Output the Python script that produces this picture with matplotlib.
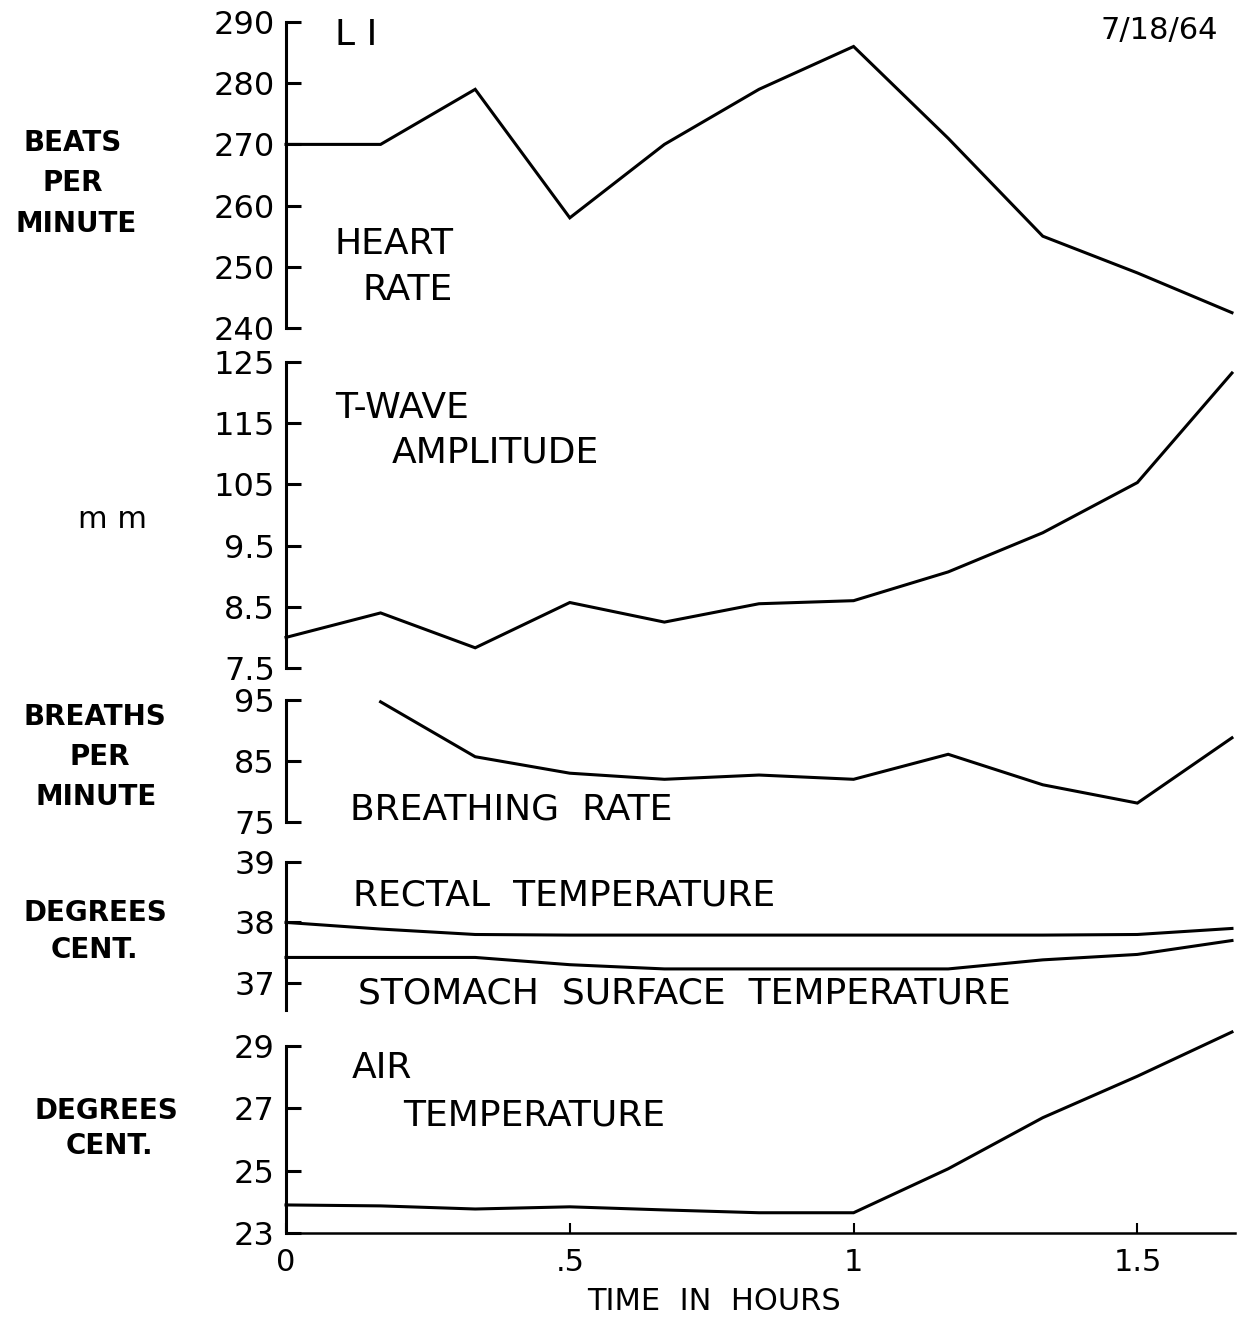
#!/usr/bin/env python3
"""Physiological time series, 7/18/64 (LI): five stacked panels vs time in hours."""

import matplotlib
matplotlib.use("Agg")
import matplotlib.pyplot as plt

# ── Data ─────────────────────────────────────────────────────────────────
hours = [0, 1 / 6, 2 / 6, 3 / 6, 4 / 6, 5 / 6, 1.0, 7 / 6, 8 / 6, 9 / 6, 10 / 6]

heart_rate = [270, 270, 279, 258, 270, 279, 286, 271, 255, 249, 242.5]
t_wave = [8.0, 8.4, 7.83, 8.57, 8.25, 8.55, 8.6, 9.07, 9.71, 10.53, 12.32]
breath_hours = hours[1:]
breathing = [94.7, 85.7, 83.0, 82.0, 82.7, 82.0, 86.1, 81.1, 78.1, 88.8]
rectal = [38.0, 37.89, 37.8, 37.79, 37.79, 37.79, 37.79, 37.79, 37.79, 37.8, 37.9]
stomach = [37.42, 37.42, 37.42, 37.3, 37.23, 37.23, 37.23, 37.23, 37.38, 37.47, 37.7]
air = [23.9, 23.87, 23.77, 23.84, 23.74, 23.65, 23.65, 25.06, 26.7, 28.03, 29.45]

hr_ticks = [240, 250, 260, 270, 280, 290]
tw_ticks = [7.5, 8.5, 9.5, 10.5, 11.5, 12.5]
tw_labels = ["7.5", "8.5", "9.5", "105", "115", "125"]
br_ticks = [75, 85, 95]
tp_ticks = [37, 38, 39]
air_ticks = [23, 25, 27, 29]
x_ticks = [0, 0.5, 1, 1.5]
x_labels = ["0", ".5", "1", "1.5"]

# ── Style ────────────────────────────────────────────────────────────────
plt.rcParams.update({
    "font.family": ["DejaVu Sans"],
    "font.size": 20,
    "axes.linewidth": 2.2,
    "lines.linewidth": 2.2,
    "lines.solid_joinstyle": "miter",
})

W, H = 1242, 1318
fig = plt.figure(figsize=(W / 100, H / 100), dpi=100)


def add_panel(top, bottom, left=286, right=1235):
    return fig.add_axes([left / W, 1 - bottom / H, (right - left) / W, (bottom - top) / H])


def txt(px, py, s, **kw):
    fig.text(px / W, 1 - py / H, s, va="center", **kw)


def style(ax, ticks, labels=None, bottom=False):
    for side in ("top", "right"):
        ax.spines[side].set_visible(False)
    if not bottom:
        ax.spines["bottom"].set_visible(False)
        ax.set_xticks([])
    ax.set_yticks(ticks)
    if labels is not None:
        ax.set_yticklabels(labels)
    ax.tick_params(axis="y", direction="in", length=11, width=2.2, labelsize=23, pad=8)
    ax.set_xlim(0, 1.672)
    ax.patch.set_alpha(0)


# heart rate
ax1 = add_panel(22, 328)
ax1.plot(hours, heart_rate, color="black", clip_on=False)
ax1.set_ylim(240, 290)
style(ax1, hr_ticks)

# t-wave amplitude
ax2 = add_panel(362, 668)
ax2.plot(hours, t_wave, color="black", clip_on=False)
ax2.set_ylim(7.5, 12.5)
style(ax2, tw_ticks, tw_labels)

# breathing rate
ax3 = add_panel(700, 822)
ax3.plot(breath_hours, breathing, color="black", clip_on=False)
ax3.set_ylim(75, 95)
style(ax3, br_ticks)

# rectal / stomach temperature
ax4 = add_panel(862, 1010)
ax4.plot(hours, rectal, color="black", clip_on=False)
ax4.plot(hours, stomach, color="black", clip_on=False)
ax4.set_ylim(36.55, 39)
style(ax4, tp_ticks)

# air temperature
ax5 = add_panel(1046, 1233)
ax5.plot(hours, air, color="black", clip_on=False)
ax5.set_ylim(23, 29)
style(ax5, air_ticks, bottom=True)
ax5.set_xticks(x_ticks)
ax5.set_xticklabels(x_labels)
ax5.tick_params(axis="x", direction="in", length=7, width=1.5, labelsize=22, pad=11)
ax5.spines["bottom"].set_linewidth(1.8)

# ── Annotations ──────────────────────────────────────────────────────────
big = dict(fontsize=26)
side = dict(fontsize=20, fontweight="bold", ha="center")

txt(1159, 30, "7/18/64", fontsize=22, ha="center")
txt(335, 35, "L I", **big)
txt(335, 244, "HEART", **big)
txt(362, 290, "RATE", **big)
txt(335, 408, "T-WAVE", **big)
txt(392, 453, "AMPLITUDE", **big)
txt(350, 810, "BREATHING  RATE", **big)
txt(353, 895, "RECTAL  TEMPERATURE", **big)
txt(358, 994, "STOMACH  SURFACE  TEMPERATURE", **big)
txt(352, 1068, "AIR", **big)
txt(403, 1115, "TEMPERATURE", **big)
txt(714, 1302, "TIME  IN  HOURS", fontsize=22, ha="center")

txt(73, 143, "BEATS", **side)
txt(73, 183, "PER", **side)
txt(76, 224, "MINUTE", **side)
txt(112, 520, "m m", fontsize=22, ha="center")
txt(95, 717, "BREATHS", **side)
txt(100, 757, "PER", **side)
txt(96, 797, "MINUTE", **side)
txt(95, 913, "DEGREES", **side)
txt(94, 950, "CENT.", **side)
txt(106, 1111, "DEGREES", **side)
txt(109, 1146, "CENT.", **side)

fig.savefig("out.png", dpi=100)
